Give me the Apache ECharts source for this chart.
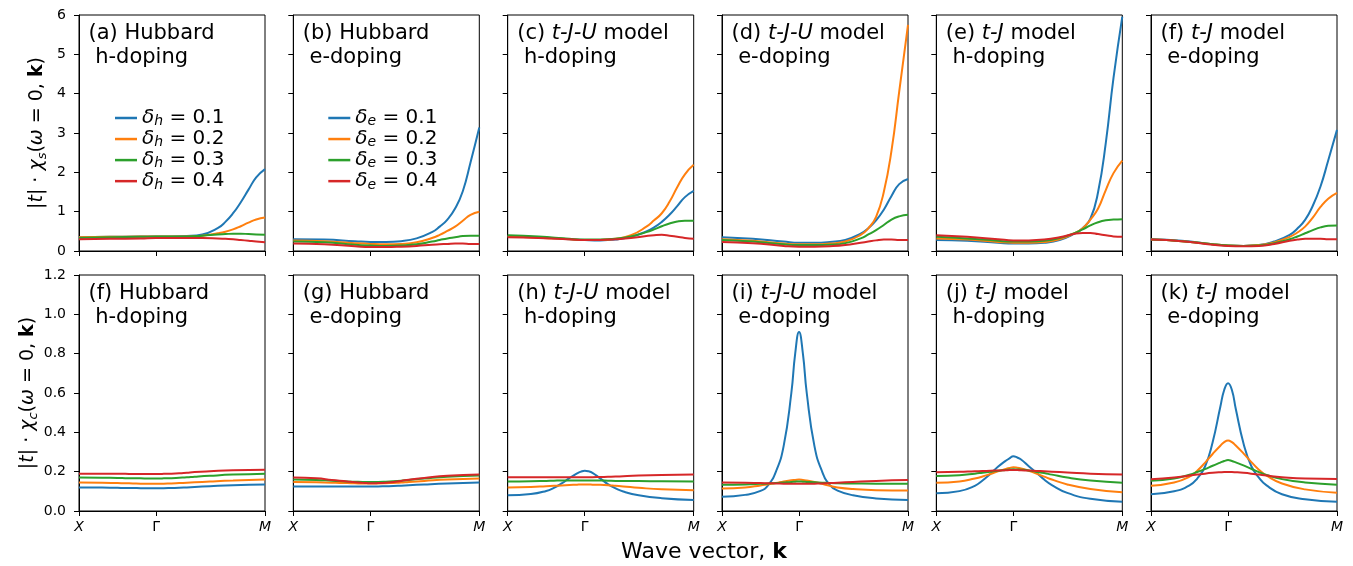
<!DOCTYPE html>
<html><head><meta charset="utf-8">
<script src="https://cdn.jsdelivr.net/npm/echarts@6/dist/echarts.min.js"></script>
<style>html,body{margin:0;padding:0;background:#fff}#c{width:1353px;height:566px}</style>
</head><body><div id="c"></div>
<script>
// wave-vector path: X(0) -> Gamma(1) -> M(1+sqrt2)
const kTop = [0, 0.4, 0.8, 1.0, 1.2, 1.4, 1.6, 1.8, 1.9, 2.0, 2.1, 2.2, 2.3, 2.4142];
const kBot = [0, 0.3, 0.5, 0.6, 0.7, 0.8, 0.9, 0.95, 1.0, 1.05, 1.1, 1.2, 1.3, 1.4, 1.5, 1.7, 2.0, 2.4142];
const xTickValues = [0, 1, 2.4142];
const xTickLabels = ['X', 'Γ', 'M'];
const dopings = ['0.1', '0.2', '0.3', '0.4'];
const lineColors = ['#1f77b4', '#ff7f0e', '#2ca02c', '#d62728'];
const panelTitles = [
  '(a) Hubbard\n h-doping', '(b) Hubbard\n e-doping',
  '(c) {i|t-J-U} model\n h-doping', '(d) {i|t-J-U} model\n e-doping',
  '(e) {i|t-J} model\n h-doping', '(f) {i|t-J} model\n e-doping',
  '(f) Hubbard\n h-doping', '(g) Hubbard\n e-doping',
  '(h) {i|t-J-U} model\n h-doping', '(i) {i|t-J-U} model\n e-doping',
  '(j) {i|t-J} model\n h-doping', '(k) {i|t-J} model\n e-doping'
];

// spin susceptibility (top row), rows: delta = 0.1, 0.2, 0.3, 0.4
const spinHubbardH = [
  [0.35,0.36,0.37,0.37,0.37,0.38,0.42,0.58,0.74,0.96,1.24,1.56,1.87,2.08],
  [0.35,0.36,0.37,0.37,0.37,0.37,0.39,0.45,0.49,0.55,0.63,0.72,0.80,0.85],
  [0.33,0.35,0.36,0.37,0.37,0.37,0.39,0.42,0.43,0.44,0.44,0.43,0.42,0.41],
  [0.30,0.31,0.32,0.33,0.33,0.33,0.33,0.32,0.31,0.30,0.28,0.26,0.24,0.22]
];
const spinHubbardE = [
  [0.30,0.29,0.25,0.23,0.23,0.25,0.32,0.48,0.62,0.80,1.08,1.52,2.25,3.14],
  [0.27,0.25,0.20,0.18,0.17,0.18,0.22,0.33,0.41,0.51,0.62,0.77,0.92,1.00],
  [0.24,0.22,0.16,0.14,0.13,0.14,0.17,0.24,0.28,0.32,0.35,0.38,0.39,0.39],
  [0.19,0.17,0.12,0.10,0.10,0.11,0.13,0.16,0.17,0.18,0.19,0.19,0.18,0.18]
];
const spinTJUH = [
  [0.38,0.35,0.30,0.28,0.27,0.29,0.36,0.50,0.60,0.74,0.92,1.14,1.37,1.53],
  [0.37,0.34,0.30,0.28,0.28,0.31,0.40,0.62,0.78,0.96,1.25,1.62,1.95,2.19],
  [0.40,0.37,0.31,0.29,0.29,0.31,0.37,0.48,0.55,0.63,0.70,0.75,0.77,0.77],
  [0.35,0.33,0.30,0.28,0.28,0.30,0.33,0.38,0.40,0.41,0.39,0.36,0.33,0.31]
];
const spinTJUE = [
  [0.35,0.31,0.24,0.21,0.21,0.23,0.28,0.44,0.58,0.78,1.05,1.40,1.70,1.83],
  [0.30,0.26,0.19,0.17,0.17,0.19,0.24,0.41,0.58,0.87,1.50,2.55,4.05,5.75],
  [0.28,0.24,0.17,0.15,0.15,0.16,0.20,0.32,0.42,0.53,0.66,0.80,0.88,0.92],
  [0.23,0.20,0.13,0.11,0.11,0.12,0.15,0.21,0.24,0.27,0.29,0.29,0.28,0.28]
];
const spinTJH = [
  [0.28,0.26,0.21,0.19,0.19,0.21,0.28,0.45,0.58,0.82,1.50,2.75,4.40,5.96],
  [0.32,0.29,0.23,0.21,0.21,0.23,0.30,0.46,0.58,0.80,1.08,1.55,1.98,2.30],
  [0.36,0.32,0.26,0.24,0.24,0.26,0.33,0.46,0.55,0.65,0.73,0.78,0.80,0.81],
  [0.40,0.36,0.30,0.27,0.27,0.29,0.35,0.44,0.46,0.46,0.43,0.40,0.37,0.36]
];
const spinTJE = [
  [0.30,0.26,0.17,0.14,0.13,0.15,0.24,0.41,0.57,0.79,1.15,1.64,2.30,3.08],
  [0.29,0.25,0.17,0.14,0.13,0.15,0.22,0.36,0.47,0.62,0.85,1.12,1.33,1.48],
  [0.29,0.25,0.17,0.14,0.13,0.14,0.20,0.30,0.37,0.45,0.53,0.60,0.64,0.65],
  [0.29,0.25,0.16,0.13,0.12,0.13,0.18,0.26,0.29,0.31,0.31,0.31,0.30,0.30]
];

// charge susceptibility (bottom row)
const chargeHubbardH = [
  [0.120,0.119,0.118,0.117,0.117,0.116,0.116,0.116,0.116,0.116,0.116,0.117,0.118,0.120,0.122,0.126,0.131,0.135],
  [0.145,0.144,0.142,0.141,0.140,0.139,0.139,0.138,0.138,0.138,0.139,0.140,0.142,0.144,0.146,0.150,0.155,0.160],
  [0.170,0.169,0.168,0.167,0.166,0.166,0.165,0.165,0.165,0.165,0.166,0.167,0.169,0.171,0.174,0.179,0.185,0.190],
  [0.190,0.190,0.189,0.189,0.188,0.188,0.188,0.188,0.188,0.188,0.189,0.190,0.192,0.195,0.198,0.202,0.207,0.210]
];
const chargeHubbardE = [
  [0.125,0.125,0.125,0.125,0.125,0.125,0.125,0.125,0.125,0.125,0.125,0.126,0.127,0.129,0.131,0.135,0.140,0.145],
  [0.148,0.146,0.144,0.143,0.142,0.141,0.140,0.140,0.140,0.140,0.140,0.141,0.143,0.145,0.148,0.153,0.160,0.165],
  [0.160,0.158,0.154,0.152,0.150,0.149,0.148,0.148,0.148,0.148,0.148,0.149,0.151,0.154,0.158,0.165,0.174,0.180],
  [0.170,0.166,0.158,0.154,0.150,0.146,0.143,0.142,0.141,0.141,0.142,0.144,0.148,0.153,0.159,0.168,0.179,0.186]
];
const chargeTJUH = [
  [0.080,0.086,0.102,0.118,0.140,0.167,0.191,0.200,0.205,0.202,0.194,0.166,0.137,0.115,0.099,0.080,0.065,0.056],
  [0.120,0.122,0.126,0.128,0.130,0.132,0.134,0.135,0.135,0.135,0.134,0.133,0.131,0.128,0.125,0.118,0.110,0.105],
  [0.150,0.151,0.153,0.154,0.155,0.155,0.155,0.155,0.155,0.155,0.155,0.155,0.154,0.153,0.153,0.152,0.151,0.150],
  [0.172,0.172,0.172,0.172,0.172,0.172,0.172,0.172,0.172,0.172,0.172,0.173,0.174,0.175,0.177,0.180,0.183,0.186]
];
const chargeTJUE = [
  [0.072,0.082,0.102,0.132,0.200,0.330,0.600,0.800,0.910,0.800,0.600,0.330,0.200,0.132,0.104,0.080,0.064,0.056],
  [0.115,0.120,0.130,0.136,0.142,0.150,0.156,0.158,0.160,0.158,0.155,0.148,0.138,0.128,0.120,0.112,0.106,0.104],
  [0.133,0.135,0.138,0.140,0.142,0.145,0.148,0.149,0.150,0.149,0.148,0.146,0.144,0.142,0.141,0.140,0.139,0.139],
  [0.145,0.144,0.142,0.141,0.140,0.139,0.138,0.138,0.138,0.138,0.138,0.139,0.140,0.142,0.144,0.148,0.153,0.157]
];
const chargeTJH = [
  [0.090,0.101,0.128,0.155,0.188,0.225,0.255,0.268,0.278,0.272,0.262,0.228,0.195,0.160,0.132,0.092,0.062,0.047],
  [0.144,0.150,0.165,0.175,0.188,0.202,0.214,0.219,0.222,0.220,0.216,0.205,0.190,0.175,0.160,0.135,0.112,0.095],
  [0.178,0.182,0.190,0.195,0.200,0.205,0.209,0.211,0.212,0.211,0.210,0.206,0.200,0.193,0.185,0.170,0.155,0.144],
  [0.197,0.199,0.202,0.203,0.205,0.206,0.207,0.208,0.208,0.208,0.207,0.206,0.204,0.202,0.200,0.196,0.190,0.186]
];
const chargeTJE = [
  [0.085,0.100,0.130,0.165,0.225,0.350,0.530,0.615,0.650,0.615,0.520,0.345,0.230,0.170,0.130,0.085,0.060,0.047],
  [0.129,0.145,0.175,0.205,0.245,0.290,0.332,0.350,0.358,0.350,0.333,0.293,0.250,0.210,0.180,0.140,0.110,0.093],
  [0.154,0.165,0.185,0.198,0.213,0.230,0.246,0.254,0.259,0.254,0.247,0.232,0.215,0.198,0.183,0.162,0.145,0.134],
  [0.161,0.170,0.180,0.185,0.190,0.194,0.197,0.198,0.198,0.198,0.197,0.194,0.190,0.185,0.180,0.172,0.165,0.163]
];

const panelData = [spinHubbardH, spinHubbardE, spinTJUH, spinTJUE, spinTJH, spinTJE,
  chargeHubbardH, chargeHubbardE, chargeTJUH, chargeTJUE, chargeTJH, chargeTJE];

const FONT = 'DejaVu Sans';
const gridLefts = [79, 293.3, 507.7, 722, 936.3, 1151];
const gridW = 186, gridH = 236;
const rowTops = [15, 275];

const grids = [], xAxes = [], yAxes = [], series = [], titles = [];
const legendH = dopings.map(d => 'δh = ' + d);
const legendE = dopings.map(d => 'δe = ' + d);

for (let p = 0; p < 12; p++) {
  const row = p < 6 ? 0 : 1, col = p % 6;
  const ks = row === 0 ? kTop : kBot;
  grids.push({left: gridLefts[col], top: rowTops[row], width: gridW, height: gridH,
    show: true, borderColor: '#000', borderWidth: 1, backgroundColor: 'transparent', containLabel: false});
  xAxes.push({
    gridIndex: p, type: 'value', min: 0, max: 2.4142,
    axisLine: {show: true, onZero: false, lineStyle: {color: '#000', width: 1}},
    axisTick: {show: true, customValues: xTickValues, length: 5, lineStyle: {color: '#000', width: 1}},
    axisLabel: {show: row === 1, customValues: xTickValues, margin: 9, color: '#000',
      fontFamily: FONT, fontSize: 14,
      formatter: v => {
        let idx = 0, best = 1e9;
        xTickValues.forEach((t, i) => { if (Math.abs(t - v) < best) { best = Math.abs(t - v); idx = i; } });
        const s = xTickLabels[idx];
        return s === 'Γ' ? '{n|' + s + '}' : '{i|' + s + '}';
      },
      rich: {i: {fontStyle: 'italic', fontSize: 14, fontFamily: FONT, color: '#000'},
             n: {fontSize: 14, fontFamily: FONT, color: '#000'}}},
    splitLine: {show: false}
  });
  const yAxis = {
    gridIndex: p, type: 'value', min: 0, max: row === 0 ? 6 : 1.2, interval: row === 0 ? 1 : 0.2,
    axisLine: {show: true, lineStyle: {color: '#000', width: 1}},
    axisTick: {show: true, length: 5, lineStyle: {color: '#000', width: 1}},
    axisLabel: {show: col === 0, margin: 13, color: '#000', fontFamily: FONT, fontSize: 14,
      formatter: row === 0 ? (v => String(Math.round(v))) : (v => v.toFixed(1))},
    splitLine: {show: false}
  };
  if (col === 0) {
    const sub = row === 0 ? 's' : 'c';
    yAxis.name = '{n||}{i|t}{n|| · }{i|χ}{s|' + sub + '}{n|(}{i|ω}{n| = 0, }{b|k}{n|)}';
    yAxis.nameLocation = 'middle';
    yAxis.nameRotate = 90;
    yAxis.nameGap = 30;
    yAxis.nameTextStyle = {
      fontFamily: FONT, fontSize: 19, color: '#000',
      rich: {
        n: {fontFamily: FONT, fontSize: 19, color: '#000', lineHeight: 24},
        i: {fontFamily: FONT, fontSize: 19, fontStyle: 'italic', color: '#000', lineHeight: 24},
        b: {fontFamily: FONT, fontSize: 19, fontWeight: 'bold', color: '#000', lineHeight: 24},
        s: {fontFamily: FONT, fontSize: 13, fontStyle: 'italic', color: '#000', lineHeight: 10, verticalAlign: 'bottom'}
      }
    };
  }
  yAxes.push(yAxis);
  titles.push({
    text: panelTitles[p], left: gridLefts[col] + 9.5, top: rowTops[row] + 7, padding: 0,
    textStyle: {fontFamily: FONT, fontSize: 21, fontWeight: 'normal', color: '#000', lineHeight: 24,
      rich: {i: {fontFamily: FONT, fontSize: 21, fontStyle: 'italic', color: '#000', lineHeight: 24}}}
  });
  panelData[p].forEach((vals, s) => {
    let name;
    if (p === 0) name = legendH[s];
    else if (p === 1) name = legendE[s];
    else name = 'panel' + p + ' δ = ' + dopings[s];
    series.push({
      type: 'line', name, xAxisIndex: p, yAxisIndex: p,
      data: ks.map((k, j) => [k, vals[j]]),
      showSymbol: false, symbol: 'none', smooth: 0.5, clip: true,
      lineStyle: {width: 2, color: lineColors[s]}, itemStyle: {color: lineColors[s]},
      z: 2 + s, animation: false
    });
  });
}

const legendRich = {
  d: {fontFamily: FONT, fontSize: 20, fontStyle: 'italic', color: '#000', lineHeight: 21.5},
  n: {fontFamily: FONT, fontSize: 20, color: '#000', lineHeight: 21.5},
  s: {fontFamily: FONT, fontSize: 14, fontStyle: 'italic', color: '#000', lineHeight: 10, verticalAlign: 'bottom'}
};
const legendFormatter = name => '{d|δ}{s|' + name.charAt(1) + '}{n| = ' + name.slice(5) + '}';
const mkLegend = (data, left) => ({
  data, left, top: 108, orient: 'vertical', padding: 0, itemGap: 0.3,
  icon: 'rect', itemWidth: 22, itemHeight: 2.5, selectedMode: false,
  textStyle: {fontFamily: FONT, fontSize: 20, color: '#000', rich: legendRich},
  formatter: legendFormatter
});

const option = {
  animation: false,
  backgroundColor: '#fff',
  title: titles,
  grid: grids, xAxis: xAxes, yAxis: yAxes, series,
  legend: [mkLegend(legendH, 115), mkLegend(legendE, 328.3)],
  graphic: [{
    type: 'text', x: 704, y: 552,
    style: {text: 'Wave vector, {b|k}', fontFamily: FONT, fontSize: 22, fill: '#000',
      align: 'center', verticalAlign: 'middle', textAlign: 'center', textVerticalAlign: 'middle',
      rich: {b: {fontFamily: FONT, fontSize: 22, fontWeight: 'bold', fill: '#000', color: '#000'}}}
  }]
};
const chart = echarts.init(document.getElementById('c'));
chart.setOption(option);
</script></body></html>
